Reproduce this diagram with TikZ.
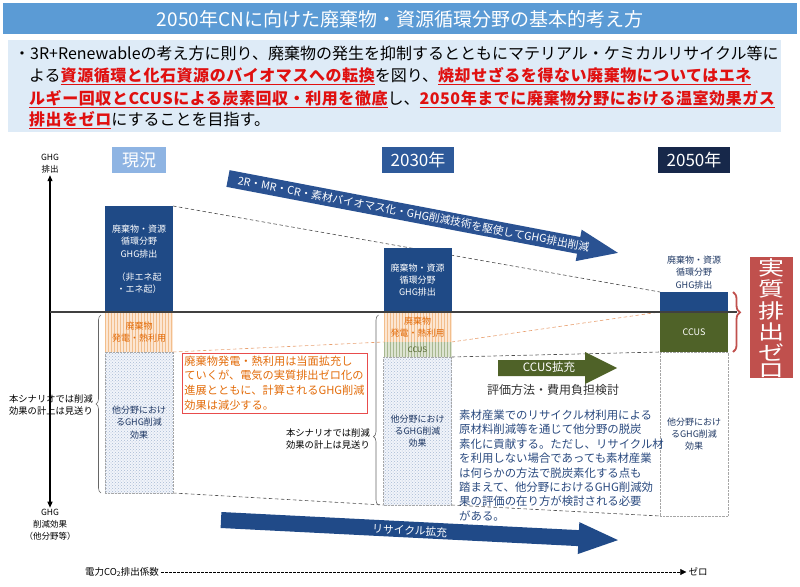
\documentclass[tikz,border=0pt]{standalone}
\usepackage{fontspec}
\setmainfont{Noto Sans CJK JP}
\usepackage{xcolor}
\usepackage{tikz}
\usetikzlibrary{positioning,calc,patterns,decorations.pathreplacing,arrows.meta}

\definecolor{titlebar}{HTML}{5B9BD5}
\definecolor{leadbg}{HTML}{DEEBF7}
\definecolor{hlred}{HTML}{E01010}
\definecolor{nowblue}{HTML}{8EB4E3}
\definecolor{midblue}{HTML}{2E5A9A}
\definecolor{navy}{HTML}{17284A}
\definecolor{ghgblue}{HTML}{1F4A86}
\definecolor{orgbg}{HTML}{FCE6D2}
\definecolor{orgln}{HTML}{F2BE8C}
\definecolor{orgtx}{HTML}{E36C0A}
\definecolor{orgdash}{HTML}{E8A070}
\definecolor{grnbg}{HTML}{DDE4D2}
\definecolor{grnln}{HTML}{A8B890}
\definecolor{olive}{HTML}{4F6228}
\definecolor{dotbg}{HTML}{F1F4FA}
\definecolor{dotln}{HTML}{A9BAD4}
\definecolor{inktx}{HTML}{1F3864}
\definecolor{noteblue}{HTML}{2A4A7F}
\definecolor{zerobox}{RGB}{192,80,77}
\definecolor{arrowblue}{HTML}{2A5292}
\definecolor{arrowdark}{HTML}{204A88}

\pgfdeclarelayer{bg}
\pgfsetlayers{bg,main}

\newcommand\colfont{\fontsize{9}{12.3}\selectfont}
\newcommand\hl[1]{{\color{hlred}\bfseries\addfontfeatures{LetterSpace=3.5}\underline{#1}}}

\tikzset{
  hdr/.style={minimum height=26pt, minimum width=72pt, inner sep=0pt, text=white, font=\fontsize{17}{17}\selectfont},
  blk/.style={minimum width=68pt, inner sep=0pt, outer sep=0pt, align=center, font=\colfont},
  ghgblk/.style={blk, fill=ghgblue, text=white},
  orgblk/.style={blk, fill=orgbg, postaction={pattern=vertical lines, pattern color=orgln}, text=orgtx},
  grnblk/.style={blk, fill=grnbg, postaction={pattern=vertical lines, pattern color=grnln}, text=olive, font=\fontsize{7.5}{8}\selectfont},
  othblk/.style={blk, fill=dotbg, postaction={pattern=crosshatch dots, pattern color=dotln}, draw=black!35, densely dotted, text=inktx},
  leadline/.style={anchor=west, inner sep=0pt, font=\fontsize{16}{16}\selectfont},
  skipnote/.style={anchor=east, align=center, inner sep=0pt, font=\fontsize{9.3}{12}\selectfont},
  axlabel/.style={align=center, inner sep=1.5pt, font=\fontsize{8.5}{12}\selectfont},
  gline/.style={draw=black!70, line width=0.6pt, dash pattern=on 3.5pt off 2.5pt},
  oline/.style={draw=orgdash, line width=0.6pt, dash pattern=on 3.5pt off 2.5pt},
  gbrace/.style={decorate, decoration={brace, amplitude=5pt, aspect=#1}, draw=black!60, line width=0.6pt},
  gbrace/.default=0.5,
  axtip/.style={-{Triangle[length=6pt,width=5pt]}},
  zchar/.style={inner sep=0pt, text=white, font=\fontsize{20}{20}\selectfont\addfontfeatures{FakeStretch=1.3}}
}

\begin{document}
\begin{tikzpicture}[x=1pt, y=-1pt]
    \useasboundingbox (0,0) rectangle (800,586);

    % Net zero box
    \node[fill=zerobox, minimum width=43pt, minimum height=121pt, inner sep=0pt] (netzero) at (771.5,317.5) {};
    \foreach \y/\ch [count=\i] in {268/実, 289/質, 310.5/排, 332/出, 352.5/ゼ, 371/ロ}
        \node[zchar] (zc\i) at (771.5,\y) {\ch};

    % Title and lead text
    \node[fill=titlebar, minimum width=794pt, minimum height=31pt, inner sep=0pt, text=white,
          font=\fontsize{19}{19}\selectfont] (title) at (400,19) {2050年CNに向けた廃棄物・資源循環分野の基本的考え方};
    \fill[leadbg] (8,40) rectangle (781,132);
    \node[leadline] (lead1) at (14,53) {・3R+Renewableの考え方に則り、廃棄物の発生を抑制するとともにマテリアル・ケミカルリサイクル等に};
    \node[leadline] (lead2) at (29,76) {よる\hl{資源循環と化石資源のバイオマスへの転換}を図り、\hl{焼却せざるを得ない廃棄物についてはエネ}};
    \node[leadline] (lead3) at (29,99) {\hl{ルギー回収とCCUSによる炭素回収・利用を徹底}し、\hl{2050年までに廃棄物分野における温室効果ガス}};
    \node[leadline] (lead4) at (29,120) {\hl{排出をゼロ}にすることを目指す。};

    % Column headers
    \node[hdr, fill=nowblue, minimum width=54pt] (hnow) at (139,160) {現況};
    \node[hdr, fill=midblue] (h2030) at (418,160) {2030年};
    \node[hdr, fill=navy] (h2050) at (694,160) {2050年};

    % Axes
    \coordinate (origin) at (50,312);
    \node[axlabel] (yup) at (50,164) {GHG\\排出};
    \node[axlabel] (ydn) at (50,525) {GHG\\削減効果\\（他分野等）};
    \draw[line width=1.2pt, axtip] (origin) -- (yup.south);
    \draw[line width=1.2pt, axtip] (origin) -- (ydn.north);

    % Now
    \node[ghgblk, minimum height=106pt, anchor=north west] (ghg1) at (105,206)
        {廃棄物・資源\\循環分野\\GHG排出\\[10.7pt]（非エネ起\\・エネ起）};
    \node[orgblk, minimum height=40pt, below=0pt of ghg1] (org1) {廃棄物\\発電・熱利用};
    \node[othblk, minimum height=141pt, below=0pt of org1] (oth1) {他分野におけ\\るGHG削減\\効果};

    % 2030
    \node[ghgblk, minimum height=64pt, anchor=north west] (ghg2) at (383.5,248) {廃棄物・資源\\循環分野\\GHG排出};
    \node[orgblk, minimum height=30pt, below=0pt of ghg2] (org2) {廃棄物\\発電・熱利用};
    \node[grnblk, minimum height=15pt, below=0pt of org2] (ccus2) {CCUS};
    \node[othblk, minimum height=148pt, below=0pt of ccus2] (oth2) {他分野におけ\\るGHG削減\\効果};

    % 2050
    \node[ghgblk, minimum height=20pt, anchor=north west] (ghg3) at (660,292) {};
    \node[blk, fill=olive, text=white, minimum height=40pt, below=0pt of ghg3] (ccus3) {CCUS};
    \node[blk, draw=black!35, densely dotted, text=inktx, minimum height=164pt, below=0pt of ccus3] (oth3) {他分野におけ\\るGHG削減\\効果};
    \node[blk, text=inktx, above=3pt of ghg3] (lbl3) {廃棄物・資源\\循環分野\\GHG排出};

    % Trend lines behind the columns
    \begin{pgfonlayer}{bg}
        \draw[gline] (ghg1.north east) -- (ghg3.north west);
        \draw[oline] (org1.south east) -- (org2.south west);
        \draw[oline] (org2.south east) -- (ccus3.north west);
        \draw[gline] (ccus2.south east) -- (ccus3.south west);
        \draw[gline] (oth1.south east) -- (oth2.south west);
        \draw[gline] (oth2.south east) -- (oth3.south west);
    \end{pgfonlayer}

    \draw[line width=1.8pt, black!75] (origin) -- (737,312);

    % Braces
    \draw[gbrace=0.5] ([xshift=-4pt]oth1.south west) -- ([xshift=-4pt,yshift=-3pt]org1.north west);
    \draw[gbrace=0.36] ([xshift=-5pt]oth2.south west) -- ([xshift=-5pt,yshift=-3pt]org2.north west);
    \node[skipnote] (skip1) at (93,404.5) {本シナリオでは削減\\効果の計上は見送り};
    \node[skipnote] (skip2) at (370,439) {本シナリオでは削減\\効果の計上は見送り};
    \draw[decorate, decoration={brace, amplitude=7pt, aspect=0.34}, draw=zerobox, line width=1.8pt]
        ([xshift=5pt]ghg3.north east) -- ([xshift=5pt]ccus3.south east);

    % Big arrows
    \begin{scope}[shift={(228,178.5)}, rotate=-10.8]
        \fill[arrowblue] (0,-8.5) -- (357,-8.5) -- (357,-16) -- (397,0) -- (357,16) -- (357,8.5) -- (0,8.5) -- cycle;
        \node[rotate=-10.8, text=white, font=\fontsize{10.8}{11}\selectfont] (techtxt) at (189,0)
            {2R・MR・CR・素材バイオマス化・GHG削減技術を駆使してGHG排出削減};
    \end{scope}
    \begin{scope}[shift={(221,520)}, rotate=-2.9]
        \fill[arrowdark] (0,-8) -- (358,-8) -- (358,-16) -- (397.5,0) -- (358,16) -- (358,8) -- (0,8) -- cycle;
        \node[rotate=-2.9, text=white, font=\fontsize{10.8}{11}\selectfont] (recytxt) at (189,1) {リサイクル拡充};
    \end{scope}
    \fill[olive] (498,360) -- (585,360) -- (585,352) -- (617,368) -- (585,384) -- (585,376) -- (498,376) -- cycle;
    \node[text=white, font=\fontsize{11.5}{12}\selectfont] (ccustxt) at (549,367) {CCUS拡充};
    \node[text=black!80, font=\fontsize{12}{12}\selectfont] (evaltxt) at (553,390) {評価方法・費用負担検討};

    % Notes
    \node[draw=hlred!75, line width=0.9pt, fill=white, minimum width=185pt, minimum height=60pt, inner sep=0pt,
          align=left, text=orgtx, font=\fontsize{11.2}{14.7}\selectfont] (elecnote) at (274.5,383)
        {廃棄物発電・熱利用は当面拡充し\\ていくが、電気の実質排出ゼロ化の\\進展とともに、計算されるGHG削減\\効果は減少する。};
    \node[anchor=west, inner sep=0pt, align=left, text=noteblue, font=\fontsize{11.4}{14.4}\selectfont] (recynote) at (459,465.5)
        {素材産業でのリサイクル材利用による\\原材料削減等を通じて他分野の脱炭\\素化に貢献する。ただし、リサイクル材\\を利用しない場合であっても素材産業\\は何らかの方法で脱炭素化する点も\\踏まえて、他分野におけるGHG削減効\\果の評価の在り方が検討される必要\\がある。};

    % Electricity factor
    \node[inner sep=2pt, font=\fontsize{9.5}{10}\selectfont] (co2) at (122,572) {電力CO\textsubscript{2}排出係数};
    \node[inner sep=2pt, font=\fontsize{9.5}{10}\selectfont] (zero) at (698,572) {ゼロ};
    \draw[line width=0.6pt, dash pattern=on 2.5pt off 1.5pt, -{Triangle[length=6pt,width=6pt]}] (co2) -- (zero);
\end{tikzpicture}
\end{document}
